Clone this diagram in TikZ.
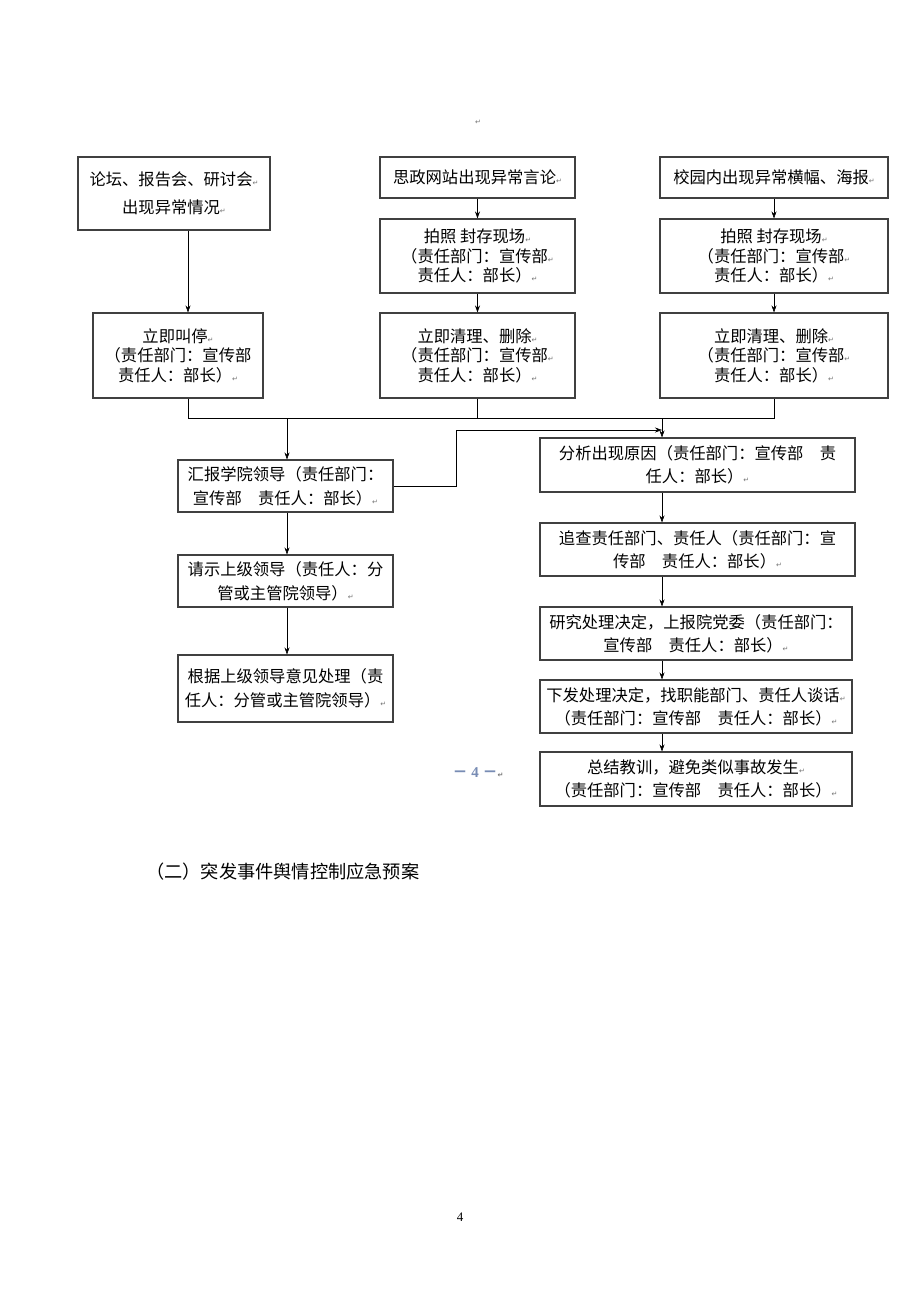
\documentclass[tikz,border=0pt]{standalone}
\usepackage{fontspec}
\setmainfont{Liberation Serif}
\newfontfamily\cjk{Noto Sans CJK SC}
\newfontfamily\dvs{DejaVu Sans}
\usetikzlibrary{arrows.meta}
\newcommand{\pmk}{{\dvs\fontsize{7}{7}\selectfont\textcolor{black!55}{↵}}}
\newcommand{\bt}[1]{\cjk\fontsize{16.3}{#1}\selectfont}
\definecolor{pgnum}{RGB}{120,140,180}
\tikzset{
  box/.style={draw=black!75, line width=1.1pt, inner sep=0pt, align=center},
  conn/.style={line width=0.6pt, black},
  arr/.style={conn, -{Stealth[length=7pt,width=5pt]}},
}
\begin{document}
\begin{tikzpicture}[x=1pt,y=-1pt]
\useasboundingbox[fill=white] (0,0) rectangle (920,1302);
\node[font=\bt{18}] (mark) at (478,122) {\pmk};
% top row
\node[box, minimum width=192pt, minimum height=73pt, font=\bt{28}] (a1) at (174,193.5) {论坛、报告会、研讨会\pmk\\出现异常情况\pmk};
\node[box, minimum width=195pt, minimum height=41pt, font=\bt{20}] (b1) at (477.5,177.5) {思政网站出现异常言论\pmk};
\node[box, minimum width=228pt, minimum height=41pt, font=\bt{20}] (c1) at (774,177.5) {校园内出现异常横幅、海报\pmk};
\node[box, minimum width=195pt, minimum height=74pt, font=\bt{19.5}] (b2) at (477.5,256) {拍照\ 封存现场\pmk\\（责任部门：宣传部\pmk\\责任人：部长）\pmk};
\node[box, minimum width=228pt, minimum height=74pt, font=\bt{19.5}] (c2) at (774,256) {拍照\ 封存现场\pmk\\（责任部门：宣传部\pmk\\责任人：部长）\pmk};
% second row
\node[box, minimum width=170pt, minimum height=85pt, font=\bt{19.5}] (a2) at (178,355.5) {立即叫停\pmk\\（责任部门：宣传部\\责任人：部长）\pmk};
\node[box, minimum width=195pt, minimum height=85pt, font=\bt{19.5}] (b3) at (477.5,355.5) {立即清理、删除\pmk\\（责任部门：宣传部\pmk\\责任人：部长）\pmk};
\node[box, minimum width=228pt, minimum height=85pt, font=\bt{19.5}] (c3) at (774,355.5) {立即清理、删除\pmk\\（责任部门：宣传部\pmk\\责任人：部长）\pmk};
% left column
\node[box, minimum width=215pt, minimum height=52pt, font=\bt{24}] (d1) at (285.5,486) {汇报学院领导（责任部门：\\宣传部　责任人：部长）\pmk};
\node[box, minimum width=215pt, minimum height=52pt, font=\bt{24}] (d2) at (285.5,581) {请示上级领导（责任人：分\\管或主管院领导）\pmk};
\node[box, minimum width=215pt, minimum height=67pt, font=\bt{24}] (d3) at (285.5,688.5) {根据上级领导意见处理（责\\任人：分管或主管院领导）\pmk};
% right column
\node[box, minimum width=315pt, minimum height=54pt, font=\bt{23}] (e1) at (697.5,465) {分析出现原因（责任部门：宣传部　责\\任人：部长）\pmk};
\node[box, minimum width=315pt, minimum height=53pt, font=\bt{23}] (e2) at (697.5,549.5) {追查责任部门、责任人（责任部门：宣\\传部　责任人：部长）\pmk};
\node[box, minimum width=312pt, minimum height=53pt, font=\bt{23}] (e3) at (696,633.5) {研究处理决定，上报院党委（责任部门：\\宣传部　责任人：部长）\pmk};
\node[box, minimum width=312pt, minimum height=53pt, font=\bt{23}] (e4) at (696,706.5) {下发处理决定，找职能部门、责任人谈话\pmk\\（责任部门：宣传部　责任人：部长）\pmk};
\node[box, minimum width=312pt, minimum height=54pt, font=\bt{23}] (e5) at (696,779) {总结教训，避免类似事故发生\pmk\\（责任部门：宣传部　责任人：部长）\pmk};
% coordinates
\coordinate (ja) at (188,418);
\coordinate (jb) at (477.5,418);
\coordinate (jc) at (774,418);
\coordinate (jd) at (287,418);
\coordinate (je) at (662,418);
\coordinate (k1) at (456,430);
\coordinate (k2) at (662,430);
% connectors
\draw[arr] (b1) -- (b2);
\draw[arr] (c1) -- (c2);
\draw[arr] (b2) -- (b3);
\draw[arr] (c2) -- (c3);
\draw[arr] (a1.south -| ja) -- (a2.north -| ja);
\draw[conn] (a2.south -| ja) -- (ja) -- (jc) -- (c3.south -| jc);
\draw[conn] (b3.south) -- (jb);
\draw[arr] (jd) -- (d1.north -| jd);
\draw[arr] (je) -- (e1.north -| je);
\draw[arr] (d1.east) -| (k1) -- (k2);
\draw[arr] (d1.south -| jd) -- (d2.north -| jd);
\draw[arr] (d2.south -| jd) -- (d3.north -| jd);
\draw[arr] (e1.south -| je) -- (e2.north -| je);
\draw[arr] (e2.south -| je) -- (e3.north -| je);
\draw[arr] (e3.south -| je) -- (e4.north -| je);
\draw[arr] (e4.south -| je) -- (e5.north -| je);
% other texts
\node[font={\fontsize{15}{18}\selectfont\bfseries}, text=pgnum] (pg) at (478,773) {{\cjk －}\ 4\ {\cjk －}\pmk};
\node[anchor=west, inner sep=0pt, font={\cjk\fontsize{18.2}{20}\selectfont}] (hd) at (146,872) {（二）突发事件舆情控制应急预案};
\node[font={\fontsize{13}{15}\selectfont}] (pn) at (460,1217) {4};
\end{tikzpicture}
\end{document}
